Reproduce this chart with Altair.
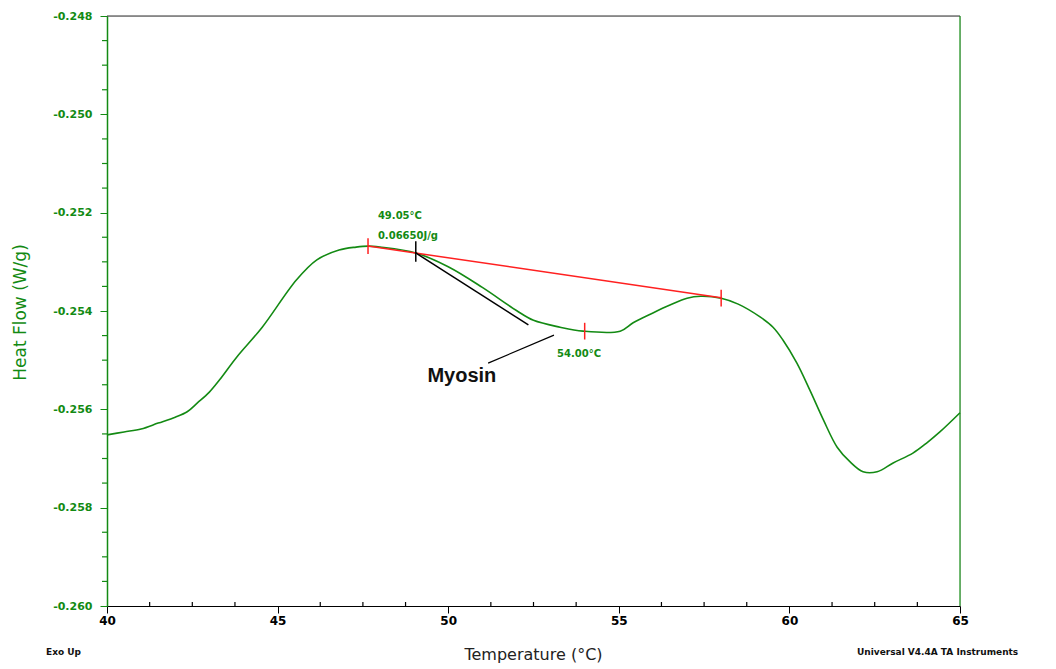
import altair as alt
import pandas as pd

# DSC curve
temp = [40, 40.5, 41, 41.5, 42, 42.35, 42.65, 43, 43.3, 43.8, 44.55, 45.55, 46.15, 46.8, 47.3,
        47.65, 48, 49.05, 50, 51, 52, 52.5, 53.28, 53.95, 55.04, 55.42, 56.0, 56.5, 57.0, 57.4,
        58.0, 58.5, 59.14, 59.52, 59.81, 60.22, 60.6, 61.0, 61.4, 61.78, 62.16, 62.57, 63.04,
        63.62, 64.03, 64.41, 65]
heat = [-0.25652, -0.25646, -0.25640, -0.25628, -0.25616, -0.25605, -0.25587, -0.25565, -0.25540,
        -0.25494, -0.25433, -0.25337, -0.25296, -0.25276, -0.25270, -0.25268, -0.25270, -0.25282,
        -0.25310, -0.25352, -0.25399, -0.25419, -0.25433, -0.25441, -0.25441, -0.25424, -0.25404,
        -0.25388, -0.25374, -0.25370, -0.25374, -0.25386, -0.25412, -0.25433, -0.25459, -0.25506,
        -0.25561, -0.25622, -0.25677, -0.25707, -0.25727, -0.25727, -0.25709, -0.25689, -0.25668,
        -0.25646, -0.25607]

# integration baseline (red)
base_x = [47.65, 58.0]
base_y = [-0.25268, -0.25373]
# red markers
red_tick_x = [47.65, 58.0, 54.0]
red_tick_y1 = [-0.25252, -0.25357, -0.25424]
red_tick_y2 = [-0.25284, -0.25391, -0.25458]
# black tangent
tan_x = [49.05, 52.35]
tan_y = [-0.25282, -0.25428]
# myosin pointer
ptr_x = [51.17, 53.10]
ptr_y = [-0.25506, -0.25449]

ann_text = ["49.05°C", "0.06650J/g", "54.00°C"]
ann_x = [47.94, 47.94, 53.19]
ann_y = [-0.25207, -0.25247, -0.25487]

y_major = [-0.248, -0.250, -0.252, -0.254, -0.256, -0.258, -0.260]
y_minor = [-0.2485, -0.249, -0.2495, -0.2505, -0.251, -0.2515, -0.2525, -0.253, -0.2535,
           -0.2545, -0.255, -0.2555, -0.2565, -0.257, -0.2575, -0.2585, -0.259, -0.2595]
x_major = [40, 45, 50, 55, 60, 65]
x_minor = [41.25, 42.5, 43.75, 46.25, 47.5, 48.75, 51.25, 52.5, 53.75, 56.25, 57.5, 58.75,
           61.25, 62.5, 63.75]

GREEN = "#138a13"
W, H = 853, 590

xs = alt.Scale(domain=[40, 65], nice=False, zero=False)
ys = alt.Scale(domain=[-0.260, -0.248], nice=False, zero=False)

curve_df = pd.DataFrame({"t": temp, "h": heat})

curve = alt.Chart(curve_df).mark_line(color=GREEN, strokeWidth=1.6, interpolate="catmull-rom").encode(
    x=alt.X("t:Q", scale=xs, axis=alt.Axis(
        values=x_major, format="d", title="Temperature (°C)", domainColor="#000000",
        tickColor="#000000", tickSize=7, labelColor="#000000", labelFont="DejaVu Sans",
        labelFontWeight="bold", labelFontSize=12, labelPadding=2, grid=False, labelFlush=False,
        titleFont="DejaVu Sans", titleFontSize=16, titleFontWeight="normal", titleColor="#222222",
        titleX=426, titleY=48, titleBaseline="middle", domainWidth=1.2)),
    y=alt.Y("h:Q", scale=ys, axis=alt.Axis(
        values=y_major, format=".3f", title="Heat Flow (W/g)", domainColor=GREEN,
        tickColor=GREEN, tickSize=7, labelColor=GREEN, labelFont="DejaVu Sans",
        labelFontWeight="bold", labelFontSize=11, labelPadding=8, grid=False, labelFlush=False,
        labelExpr="replace(datum.label, '\u2212', '-')",
        titleFont="DejaVu Sans", titleFontSize=17, titleFontWeight="normal", titleColor=GREEN,
        titleX=-87, titleY=296, titleAngle=-90, titleBaseline="middle", titleAlign="center",
        domainWidth=1.5)),
)

X = lambda f="t:Q": alt.X(f, scale=xs)
Y = lambda f="h:Q": alt.Y(f, scale=ys)

base_df = pd.DataFrame({"t": base_x, "h": base_y})
baseline = alt.Chart(base_df).mark_line(color="#ff2020", strokeWidth=1.5).encode(x=X(), y=Y())

tan_df = pd.DataFrame({"t": tan_x, "h": tan_y})
tangent = alt.Chart(tan_df).mark_line(color="#000000", strokeWidth=1.5).encode(x=X(), y=Y())

ptr_df = pd.DataFrame({"t": ptr_x, "h": ptr_y})
pointer = alt.Chart(ptr_df).mark_line(color="#000000", strokeWidth=1.2).encode(x=X(), y=Y())

rt_df = pd.DataFrame({"t": red_tick_x, "h": red_tick_y1, "h2": red_tick_y2})
red_ticks = alt.Chart(rt_df).mark_rule(color="#ff2020", strokeWidth=1.5).encode(
    x=X(), y=Y(), y2="h2:Q")

bt_df = pd.DataFrame({"t": [49.05], "h": [-0.25258], "h2": [-0.25300]})
black_tick = alt.Chart(bt_df).mark_rule(color="#000000", strokeWidth=1.5).encode(
    x=X(), y=Y(), y2="h2:Q")

ann_df = pd.DataFrame({"t": ann_x, "h": ann_y, "txt": ann_text})
ann = alt.Chart(ann_df).mark_text(color=GREEN, font="DejaVu Sans", fontWeight="bold", fontSize=10,
                                  align="left", baseline="middle").encode(
    x=X(), y=Y(), text="txt:N")

myo_df = pd.DataFrame({"t": [50.40], "h": [-0.25532], "txt": ["Myosin"]})
myo = alt.Chart(myo_df).mark_text(color="#111111", font="Liberation Sans", fontWeight="bold",
                                  fontSize=20, align="center", baseline="middle").encode(
    x=X(), y=Y(), text="txt:N")

# minor ticks
ymin_df = pd.DataFrame({"h": y_minor})
y_minor_ticks = alt.Chart(ymin_df).mark_rule(color=GREEN, strokeWidth=1.2).encode(
    y=Y(), x=alt.value(-5), x2=alt.value(0))
xmin_df = pd.DataFrame({"t": x_minor})
x_minor_ticks = alt.Chart(xmin_df).mark_rule(color="#000000", strokeWidth=1.2).encode(
    x=X(), y=alt.value(H - 4), y2=alt.value(H))

# frame top (black) and right (green)
frame_df = pd.DataFrame({"k": [0]})
top_line = alt.Chart(frame_df).mark_rule(color="#333333", strokeWidth=1.2).encode(
    x=alt.value(0), x2=alt.value(W), y=alt.value(0))
right_line = alt.Chart(frame_df).mark_rule(color=GREEN, strokeWidth=1.2).encode(
    x=alt.value(W), y=alt.value(0), y2=alt.value(H))

foot_df = pd.DataFrame({"txt": ["Exo Up"]})
exo = alt.Chart(foot_df).mark_text(color="#111111", font="DejaVu Sans", fontWeight="bold",
                                   fontSize=9, align="left", baseline="middle").encode(
    x=alt.value(-61), y=alt.value(H + 46), text="txt:N")
uni_df = pd.DataFrame({"txt": ["Universal V4.4A TA Instruments"]})
uni = alt.Chart(uni_df).mark_text(color="#111111", font="DejaVu Sans", fontWeight="bold",
                                  fontSize=9, align="left", baseline="middle").encode(
    x=alt.value(W - 103), y=alt.value(H + 46), text="txt:N")

chart = alt.layer(
    curve, baseline, tangent, pointer, red_ticks, black_tick, ann, myo,
    y_minor_ticks, x_minor_ticks, top_line, right_line, exo, uni
).properties(
    width=W, height=H,
    autosize=alt.AutoSizeParams(type="none"),
    padding={"left": 107, "top": 16, "right": 96, "bottom": 63},
).configure_view(stroke=None).configure(background="#ffffff")

chart.save("out.html", embed_options={"renderer": "svg", "actions": False})
